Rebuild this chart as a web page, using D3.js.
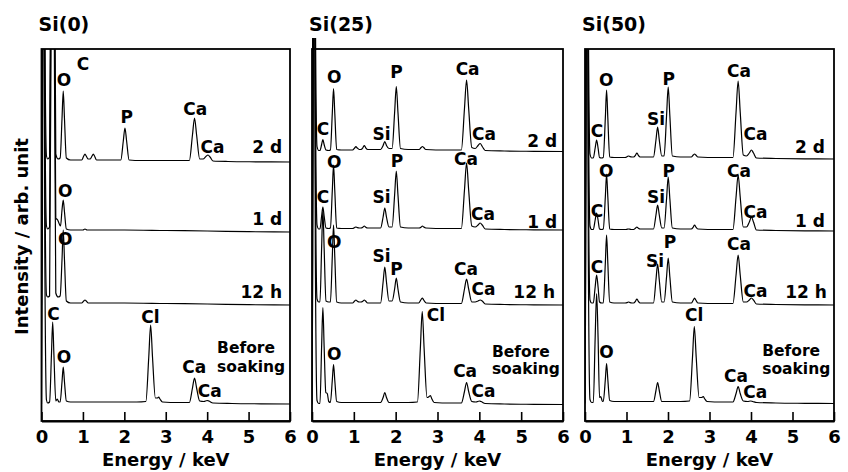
<!DOCTYPE html>
<html><head><meta charset="utf-8">
<script src="https://cdn.jsdelivr.net/npm/d3@7"></script>
<style>
html,body{margin:0;padding:0;background:#fff;}
svg text{font-family:"DejaVu Sans",sans-serif;font-weight:bold;fill:#000;}
</style></head>
<body><svg id="chart" width="848" height="472"></svg>
<script>
// ---------------- DATA ----------------
const panelTitles = ["Si(0)", "Si(25)", "Si(50)"];
const sampleNames = ["Before soaking", "12 h", "1 d", "2 d"];
const energyTicks = [0, 1, 2, 3, 4, 5, 6];
// stacking offsets (arb. unit) of each sample's baseline, per panel
const offsetsSi0  = [17, 116, 189, 259];
const offsetsSi25 = [16.5, 116, 191, 269.5];
const offsetsSi50 = [17.5, 116, 190, 262];

// spectra: [energy keV, intensity arb. unit above own baseline]
const si0_before = [[0,0],[0.02,150],[0.05,600],[0.08,150],[0.12,4],[0.15,1],[0.195,2],[0.24,49],[0.27,82],[0.30,49],[0.345,3],[0.38,5],[0.42,2],[0.45,2],[0.495,22],[0.525,37],[0.555,22],[0.60,3],[0.70,2],[1.5,2],[2.3,2],[2.52,2.5],[2.59,47],[2.635,79],[2.68,47],[2.75,6],[2.80,6],[2.83,7],[2.86,5],[2.92,2],[3.3,1.5],[3.57,1.5],[3.645,16],[3.695,26],[3.745,16],[3.82,3],[3.92,2.5],[4.00,3.5],[4.04,3],[4.14,1],[4.6,0.5],[5.3,0.2],[6,0]];
const si0_12h = [[0,0],[0.02,150],[0.05,600],[0.08,150],[0.12,10],[0.15,8],[0.195,9],[0.24,360],[0.27,600],[0.30,360],[0.345,12],[0.40,8],[0.45,9],[0.495,45],[0.525,75],[0.555,45],[0.60,4],[0.70,2],[0.97,2],[1.02,4],[1.05,5],[1.08,4],[1.13,2],[2.0,2],[3.0,1.5],[4.0,1],[5.0,0.3],[6,0]];
const si0_1d = [[0,0],[0.02,150],[0.05,600],[0.08,150],[0.12,6],[0.15,3],[0.195,5],[0.24,360],[0.27,600],[0.30,360],[0.345,14],[0.39,12],[0.43,8],[0.46,6],[0.495,22],[0.525,32],[0.555,20],[0.60,3],[0.70,2],[1.0,2],[1.05,3],[1.1,2],[2.0,2],[3.0,1.5],[4.0,1],[5.0,0.3],[6,0]];
const si0_2d = [[0,0],[0.02,150],[0.05,600],[0.08,150],[0.12,6],[0.15,3],[0.195,5],[0.24,360],[0.27,600],[0.30,360],[0.345,8],[0.40,3],[0.45,4],[0.495,43],[0.525,71],[0.555,43],[0.60,4],[0.70,2],[0.97,2],[1.02,6],[1.05,8],[1.08,6],[1.13,3],[1.17,3],[1.22,6],[1.25,8],[1.28,6],[1.33,2],[1.6,2],[1.915,2],[1.975,21],[2.015,34],[2.055,21],[2.115,2],[2.4,1.5],[3.2,1.5],[3.57,1.5],[3.645,27],[3.695,44],[3.745,27],[3.82,3],[3.90,3],[3.97,5.5],[4.02,7],[4.07,5],[4.14,1],[4.5,0.5],[5.2,0.2],[6,0]];

const si25_before = [[0,0],[0.02,150],[0.05,600],[0.08,150],[0.12,4],[0.16,1],[0.19,1],[0.23,58],[0.26,97],[0.29,58],[0.33,12],[0.365,11],[0.40,3],[0.44,2],[0.485,24],[0.515,40],[0.545,24],[0.59,3],[0.70,2],[1.5,2],[1.64,2],[1.70,7],[1.74,12],[1.78,7],[1.84,2],[2.3,2],[2.52,2.5],[2.59,56],[2.635,93],[2.68,56],[2.75,7],[2.80,8],[2.83,9],[2.86,6],[2.92,2],[3.3,1.5],[3.57,1.5],[3.645,13],[3.695,22],[3.745,13],[3.82,3],[3.92,2.5],[4.00,3.5],[4.04,3],[4.14,1],[4.6,0.5],[5.3,0.2],[6,0]];
const si25_12h = [[0,0],[0.02,150],[0.05,600],[0.08,150],[0.12,6],[0.16,3],[0.19,3],[0.23,57],[0.26,95],[0.29,57],[0.335,4],[0.40,3],[0.44,3],[0.485,48],[0.515,80],[0.545,48],[0.59,3],[0.70,2],[0.97,2],[1.02,4],[1.05,5],[1.08,4],[1.13,3],[1.17,3],[1.22,4],[1.25,5],[1.28,4],[1.33,2],[1.64,2],[1.70,23],[1.74,38],[1.78,23],[1.84,4],[1.915,4],[1.975,16],[2.015,27],[2.055,16],[2.115,3],[2.3,2],[2.55,2],[2.60,5],[2.635,7],[2.67,5],[2.73,2],[3.2,1.5],[3.57,1.5],[3.645,16],[3.695,26],[3.745,16],[3.82,3],[3.90,3],[3.97,4],[4.02,5],[4.07,4],[4.14,1],[4.6,0.5],[5.3,0.2],[6,0]];
const si25_1d = [[0,0],[0.02,150],[0.05,600],[0.08,150],[0.12,5],[0.16,1],[0.19,1],[0.23,14],[0.26,23],[0.29,14],[0.335,2],[0.40,1.5],[0.44,2],[0.485,39],[0.515,65],[0.545,39],[0.59,2],[0.70,1.5],[0.97,1.5],[1.02,2.5],[1.05,3],[1.08,2.5],[1.13,2],[1.17,2],[1.22,3],[1.25,4],[1.28,3],[1.33,2],[1.64,2],[1.70,13],[1.74,22],[1.78,13],[1.84,3],[1.915,3],[1.975,35],[2.015,59],[2.055,35],[2.115,3],[2.3,2],[2.56,2],[2.61,3],[2.64,4],[2.67,3],[2.72,2],[3.2,1.5],[3.57,1.5],[3.645,40],[3.695,67],[3.745,40],[3.82,4],[3.90,3],[3.97,5],[4.02,7],[4.07,5],[4.14,1],[4.6,0.5],[5.3,0.2],[6,0]];
const si25_2d = [[0,0],[0.02,150],[0.05,600],[0.08,150],[0.12,5],[0.16,1],[0.19,1],[0.23,7],[0.26,12],[0.29,7],[0.335,1.5],[0.40,1],[0.44,1.5],[0.485,38],[0.515,63],[0.545,38],[0.59,2],[0.70,1.5],[0.97,1.5],[1.02,3.5],[1.05,5],[1.08,3.5],[1.13,2],[1.17,2],[1.22,4],[1.25,6],[1.28,4],[1.33,2],[1.64,2],[1.70,6],[1.74,10],[1.78,6],[1.84,3],[1.915,3],[1.975,39],[2.015,65],[2.055,39],[2.115,3],[2.3,2],[2.56,2],[2.61,4],[2.64,5],[2.67,4],[2.72,2],[3.2,1.5],[3.57,1.5],[3.645,43],[3.695,71.5],[3.745,43],[3.82,4],[3.90,3],[3.97,6],[4.02,8],[4.07,5],[4.14,1],[4.6,0.5],[5.3,0.2],[6,0]];

const si50_before = [[0,0],[0.02,150],[0.05,600],[0.08,150],[0.12,4],[0.16,1],[0.20,1],[0.245,66],[0.28,110],[0.315,66],[0.35,6],[0.38,7],[0.42,2],[0.44,2],[0.49,24],[0.52,40],[0.55,24],[0.595,3],[0.70,2],[1.5,2],[1.65,2],[1.71,13],[1.75,21],[1.79,13],[1.85,2],[2.3,2],[2.52,2.5],[2.59,46],[2.634,77],[2.68,46],[2.75,6],[2.81,6],[2.85,7],[2.88,5],[2.94,2],[3.3,1.5],[3.565,1.5],[3.64,10],[3.69,17],[3.74,10],[3.815,2.5],[3.92,2],[3.99,2.5],[4.04,2],[4.14,1],[4.6,0.5],[5.3,0.2],[6,0]];
const si50_12h = [[0,0],[0.02,150],[0.05,600],[0.08,150],[0.12,5],[0.16,2],[0.20,2],[0.245,18],[0.28,30],[0.315,18],[0.35,3],[0.40,2],[0.44,2],[0.49,42],[0.52,70],[0.55,42],[0.595,3],[0.70,2],[0.97,2],[1.02,2.5],[1.05,3],[1.08,2.5],[1.13,2],[1.17,2],[1.22,4],[1.25,6],[1.28,4],[1.33,2],[1.65,2],[1.71,25],[1.75,41],[1.79,25],[1.85,3],[1.905,3],[1.965,28],[2.005,47],[2.045,28],[2.105,3],[2.3,2],[2.56,2],[2.61,5],[2.64,7],[2.67,5],[2.72,2],[3.2,1.5],[3.565,1.5],[3.64,30],[3.69,50],[3.74,30],[3.815,3],[3.89,3],[3.96,5],[4.01,7],[4.06,5],[4.13,1],[4.6,0.5],[5.3,0.2],[6,0]];
const si50_1d = [[0,0],[0.02,150],[0.05,600],[0.08,150],[0.12,5],[0.16,1.5],[0.20,1.5],[0.245,11],[0.28,18],[0.315,11],[0.35,2],[0.40,1.5],[0.44,2],[0.49,34],[0.52,57],[0.55,34],[0.595,2],[0.70,1.5],[0.97,1.5],[1.02,1.8],[1.05,2],[1.08,1.8],[1.13,1.5],[1.17,1.5],[1.22,3],[1.25,4],[1.28,3],[1.33,2],[1.65,2],[1.71,16],[1.75,26],[1.79,16],[1.85,3],[1.905,3],[1.965,32],[2.005,54],[2.045,32],[2.105,3],[2.3,2],[2.56,2],[2.61,4],[2.64,6],[2.67,4],[2.72,2],[3.2,1.5],[3.565,1.5],[3.64,34],[3.69,56],[3.74,34],[3.815,4],[3.89,4],[3.96,9],[4.01,14],[4.06,9],[4.13,1],[4.6,0.5],[5.3,0.2],[6,0]];
const si50_2d = [[0,0],[0.02,150],[0.05,600],[0.08,150],[0.12,5],[0.16,1],[0.20,1],[0.245,11],[0.28,19],[0.315,11],[0.35,1.5],[0.40,1],[0.44,1.5],[0.49,41],[0.52,69],[0.55,41],[0.595,2],[0.70,1.5],[0.97,1.5],[1.02,2.5],[1.05,3],[1.08,2.5],[1.13,2],[1.17,2],[1.22,4],[1.25,6],[1.28,4],[1.33,2],[1.65,2],[1.71,19],[1.75,32],[1.79,19],[1.85,3],[1.905,3],[1.965,43],[2.005,72],[2.045,43],[2.105,3],[2.3,2],[2.56,2],[2.61,4],[2.64,5],[2.67,4],[2.72,2],[3.2,1.5],[3.565,1.5],[3.64,47],[3.69,78],[3.74,47],[3.815,4],[3.89,3],[3.96,6],[4.01,9],[4.06,6],[4.13,1],[4.6,0.5],[5.3,0.2],[6,0]];

// peak labels: [text, energy keV, absolute stacked intensity]
const si0_labels = [["C",1.00,351],["O",0.54,335],["P",2.06,298],["Ca",3.71,306],["Ca",4.13,268],["O",0.57,224],["O",0.57,176],["C",0.29,101],["O",0.54,58],["Cl",2.63,98],["Ca",3.69,48],["Ca",4.06,24]];
const si25_labels = [["O",0.53,337.7],["P",2.02,343],["Ca",3.72,346],["C",0.26,286],["Si",1.66,281],["Ca",4.11,281],["O",0.53,252.7],["P",2.03,254],["Ca",3.68,256],["C",0.26,218],["Si",1.66,218],["Ca",4.09,201],["O",0.53,173],["Si",1.66,159.3],["P",2.02,146],["Ca",3.68,146],["Ca",4.10,126],["Cl",2.96,100.3],["O",0.53,61],["Ca",3.66,44.3],["Ca",4.10,24.3]];
const si50_labels = [["O",0.51,335],["P",2.02,336],["Ca",3.71,344.3],["C",0.29,284],["Si",1.71,296],["Ca",4.11,281],["O",0.51,244],["P",2.02,244],["Ca",3.71,244],["C",0.29,204],["Si",1.71,218],["Ca",4.11,203],["P",2.05,173],["Si",1.69,154.3],["Ca",3.71,171],["C",0.29,148],["Ca",4.11,124.3],["Cl",2.63,100.3],["O",0.52,63],["Ca",3.64,39.3],["Ca",4.10,23]];
// sample-name labels: right edge energy / intensity for 12 h,1 d,2 d; "Before soaking" left edge
const si0_sampleLabels = [[5.81,123],[5.81,196],[5.81,268]];
const si25_sampleLabels = [[5.81,123],[5.86,193],[5.86,274.3]];
const si50_sampleLabels = [[5.83,123],[5.78,194],[5.78,268]];
const beforeLabelPos = [[4.24,68,49],[4.30,64.3,47],[4.27,65,47]];

// ---------------- DRAW ----------------
const panels = [
  {title: panelTitles[0], spectra: [si0_before, si0_12h, si0_1d, si0_2d], offsets: offsetsSi0, labels: si0_labels, sl: si0_sampleLabels, bl: beforeLabelPos[0]},
  {title: panelTitles[1], spectra: [si25_before, si25_12h, si25_1d, si25_2d], offsets: offsetsSi25, labels: si25_labels, sl: si25_sampleLabels, bl: beforeLabelPos[1]},
  {title: panelTitles[2], spectra: [si50_before, si50_12h, si50_1d, si50_2d], offsets: offsetsSi50, labels: si50_labels, sl: si50_sampleLabels, bl: beforeLabelPos[2]}
];
const xRanges = [[41.5, 290], [312, 563], [585, 834]];
const plotTop = 49, plotBottom = 421;
const clipTops = [plotTop, 38, plotTop];
const svg = d3.select("#chart");
const defs = svg.append("defs");

panels.forEach((p, i) => {
  const x = d3.scaleLinear().domain([0, 6]).range(xRanges[i]);
  const y = d3.scaleLinear().domain([0, plotBottom - plotTop]).range([plotBottom, plotTop]);
  const g = svg.append("g");
  defs.append("clipPath").attr("id", "clip" + i).append("rect")
    .attr("x", xRanges[i][0]).attr("y", clipTops[i])
    .attr("width", xRanges[i][1] - xRanges[i][0]).attr("height", plotBottom - clipTops[i]);

  const sg = g.append("g").attr("clip-path", `url(#clip${i})`);
  p.spectra.forEach((s, k) => {
    const off = p.offsets[k];
    const line = d3.line().x(d => x(d[0])).y(d => y(d[1] + off)).curve(d3.curveMonotoneX);
    sg.append("path").attr("d", line(s)).attr("fill", "none")
      .attr("stroke", "#000").attr("stroke-width", 1.2).attr("stroke-linejoin", "round");
  });

  // frame
  g.append("rect").attr("x", xRanges[i][0]).attr("y", plotTop)
    .attr("width", xRanges[i][1] - xRanges[i][0]).attr("height", plotBottom - plotTop)
    .attr("fill", "none").attr("stroke", "#000").attr("stroke-width", 1.8);

  // x axis
  const ax = d3.axisBottom(x).tickValues(energyTicks).tickSizeInner(-9).tickSizeOuter(0).tickPadding(9.5).tickFormat(d3.format("d"));
  const axg = g.append("g").attr("transform", `translate(0,${plotBottom})`).call(ax);
  axg.select(".domain").attr("stroke", "#000").attr("stroke-width", 1.8);
  axg.selectAll(".tick line").attr("stroke", "#000").attr("stroke-width", 1.6);
  axg.selectAll(".tick text").attr("font-size", 18).attr("font-family", "DejaVu Sans").attr("font-weight", "bold").attr("fill", "#000");

  g.append("text").attr("x", (xRanges[i][0] + xRanges[i][1]) / 2).attr("y", 466)
    .attr("text-anchor", "middle").attr("font-size", 18).text("Energy / keV");

  g.append("text").attr("x", xRanges[i][0] - 3).attr("y", 30.5)
    .attr("font-size", 19).text(p.title);

  // peak labels
  g.selectAll("text.pk").data(p.labels).enter().append("text").attr("class", "pk")
    .attr("x", d => x(d[1])).attr("y", d => y(d[2]))
    .attr("text-anchor", "middle").attr("font-size", 17).text(d => d[0]);

  // sample labels
  [1, 2, 3].forEach((k, j) => {
    g.append("text").attr("x", x(p.sl[j][0])).attr("y", y(p.sl[j][1]))
      .attr("text-anchor", "end").attr("font-size", 17).text(sampleNames[k]);
  });
  const words = sampleNames[0].split(" ");
  g.append("text").attr("x", x(p.bl[0])).attr("y", y(p.bl[1])).attr("font-size", 15.5).text(words[0]);
  g.append("text").attr("x", x(p.bl[0])).attr("y", y(p.bl[2])).attr("font-size", 15.5).text(words[1]);
});

svg.append("text").attr("transform", "translate(28,236.5) rotate(-90)")
  .attr("text-anchor", "middle").attr("font-size", 18).text("Intensity / arb. unit");
</script></body></html>
